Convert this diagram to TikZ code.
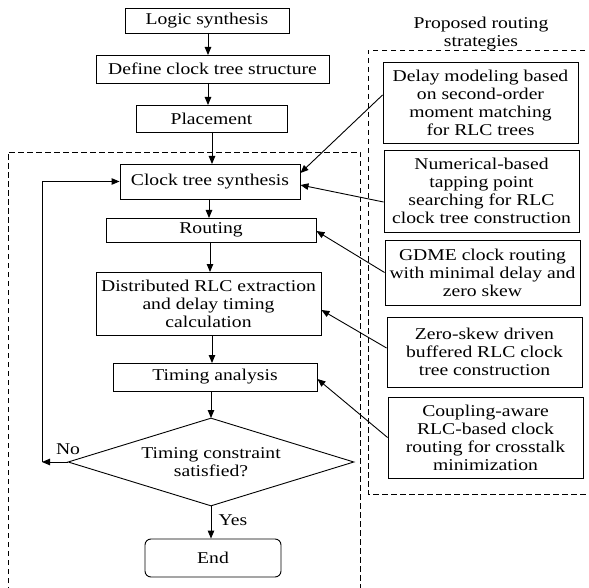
\documentclass[tikz,border=0pt]{standalone}
\usepackage{fontspec}
\setmainfont{Liberation Serif}[FakeStretch=1.19]
\usetikzlibrary{arrows.meta,shapes.geometric,calc}
\begin{document}
\begin{tikzpicture}[x=1pt,y=-1pt,
  font=\fontsize{16.5}{18}\selectfont,
  box/.style n args={2}{draw, line width=0.9pt, rectangle, minimum width=#1, minimum height=#2, inner sep=0pt, align=center},
  arr/.style={-{Triangle[length=8pt,width=6.5pt]}, line width=0.9pt},
  lnk/.style={line width=0.9pt},
  dbox/.style={dash pattern=on 5.5pt off 3.5pt, line width=0.9pt}]
\useasboundingbox (0,0) rectangle (589,588);

% dashed frames
\draw[dbox] (8,592) -- (8,152) -- (360,152) -- (360,592);
\draw[dbox] (594,50) -- (368,50) -- (368,494) -- (594,494);

% main flow
\node[box={164pt}{25pt}] (logic) at (207,20.5) {Logic synthesis};
\node[box={233pt}{28pt}] (define) at (212.5,69) {Define clock tree structure};
\node[box={151pt}{27pt}] (place) at (211.5,118.5) {Placement};
\node[box={180pt}{35pt}] (cts) at (210,181.5) {Clock tree synthesis};
\node[box={210pt}{24pt}] (route) at (211,230) {Routing};
\node[box={225pt}{63pt}] (dist) at (208.5,303.5) {Distributed RLC extraction\\and delay timing\\calculation};
\node[box={204pt}{28pt}] (timing) at (215,377) {Timing analysis};
\node[draw, line width=0.9pt, diamond, aspect=3.25, minimum width=286pt, minimum height=88pt, inner sep=0pt, align=center] (dia) at (211,462) {Timing constraint\\satisfied?};
\node[box={136pt}{38pt}, rounded corners=6pt] (end) at (213,558) {End};

\draw[arr] (208,33) -- (208,55);
\draw[arr] (208,83) -- (208,105);
\draw[arr] (212,132) -- (212,164);
\draw[arr] (209,199) -- (209,218);
\draw[arr] (210,242) -- (210,272);
\draw[arr] (212,335) -- (212,363);
\draw[arr] (211,391) -- (211,418);
\draw[arr] (dia.south) -- (dia.south |- end.north);

\coordinate (fb1) at (42,462);
\coordinate (fb2) at (42,181.5);
\draw[arr] (dia.west) -- (fb1);
\draw[arr] (fb1) -- (fb2) -- (cts.west);
\node (no) at (68,449) {No};
\node (yes) at (233,520) {Yes};

% strategies
\node[align=center] (title) at (481,34) {Proposed routing\\strategies};
\node[box={195pt}{81pt}] (b1) at (480.5,102.5) {Delay modeling based\\on second-order\\moment matching\\for RLC trees};
\node[box={195pt}{82pt}] (b2) at (481.5,191) {Numerical-based\\tapping point\\searching for RLC\\clock tree construction};
\node[box={195pt}{65pt}] (b3) at (482.5,272.5) {GDME clock routing\\with minimal delay and\\zero skew};
\node[box={195pt}{70pt}] (b4) at (484.5,352) {Zero-skew driven\\buffered RLC clock\\tree construction};
\node[box={195pt}{81pt}] (b5) at (485.5,437.5) {Coupling-aware\\RLC-based clock\\routing for crosstalk\\minimization};

\draw[arr] ([yshift=7.5pt]b1.west) -- ([yshift=8.5pt]cts.east);
\draw[arr] ([yshift=-11pt]b2.west) -- ([yshift=-3.5pt]cts.east);
\draw[arr] (b3.west) -- ([yshift=-1pt]route.east);
\draw[arr] ([yshift=4pt]b4.west) -- ([yshift=-6.5pt]dist.east);
\draw[arr] (b5.west) -- ([yshift=-2pt]timing.east);
\end{tikzpicture}
\end{document}
